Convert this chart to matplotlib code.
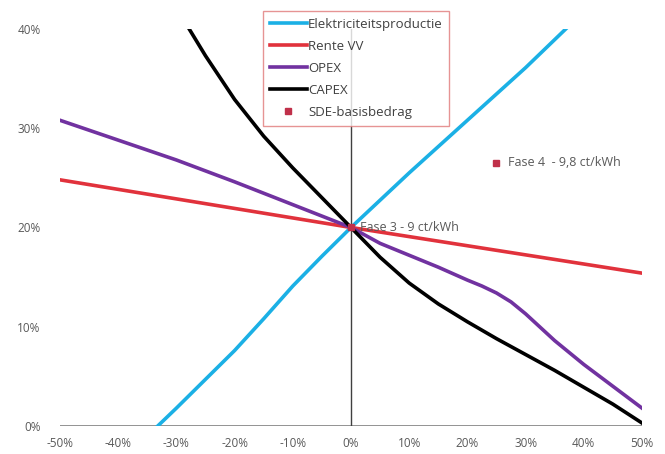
import matplotlib.pyplot as plt
from matplotlib.ticker import FuncFormatter

plt.rcParams['font.family'] = ['Open Sans', 'DejaVu Sans']

# values (x = change in %, y = %)
elek_x = [-33.2, -30, -25, -20, -15, -10, -5, 0, 10, 20, 30, 36.9]
elek_y = [0, 1.8, 4.7, 7.6, 10.8, 14.1, 17.1, 20, 25.5, 30.8, 36.1, 40]

rente_x = [-50, -25, 0, 25, 50]
rente_y = [24.8, 22.4, 20, 17.7, 15.4]

opex_x = [-50, -40, -30, -20, -10, 0, 5, 10, 15, 20, 22.5, 25, 27.5, 30, 35, 40, 45, 50]
opex_y = [30.8, 28.8, 26.8, 24.6, 22.3, 20, 18.4, 17.2, 16.0, 14.7, 14.1, 13.4, 12.5, 11.3, 8.6, 6.2, 4.0, 1.8]

capex_x = [-27.8, -25, -20, -15, -10, -5, 0, 5, 10, 15, 20, 25, 30, 35, 40, 45, 50]
capex_y = [40, 37.3, 32.9, 29.2, 26.0, 23.0, 20, 17.0, 14.4, 12.3, 10.5, 8.8, 7.2, 5.6, 3.9, 2.2, 0.3]

sde_x = [0, 25]
sde_y = [20, 26.5]
sde_labels = ["Fase 3 - 9 ct/kWh", "Fase 4  - 9,8 ct/kWh"]

xticks = list(range(-50, 51, 10))
yticks = [0, 10, 20, 30, 40]

fig = plt.figure(figsize=(6.65, 4.54), dpi=100)
ax = fig.add_axes([0.0902, 0.0617, 0.8752, 0.8745])

grey = '#595959'
ax.axhline(0, color='#808080', lw=1.2, zorder=1)
ax.axvline(0, color='#404040', lw=1.0, zorder=1)

ax.plot(elek_x, elek_y, color='#1BB0E5', lw=2.6, label='Elektriciteitsproductie', zorder=3)
ax.plot(rente_x, rente_y, color='#E1323C', lw=2.6, label='Rente VV', zorder=3)
ax.plot(opex_x, opex_y, color='#7132A0', lw=2.6, label='OPEX', zorder=3)
ax.plot(capex_x, capex_y, color='#000000', lw=2.6, label='CAPEX', zorder=3)
ax.plot(sde_x, sde_y, ls='none', marker='s', ms=5, color='#C0304A',
        label='SDE-basisbedrag', zorder=4)

ax.text(sde_x[0] + 1.5, sde_y[0], sde_labels[0], color=grey, fontsize=9,
        va='center', ha='left', zorder=5)
ax.text(sde_x[1] + 2.0, sde_y[1], sde_labels[1], color=grey, fontsize=9,
        va='center', ha='left', zorder=5)

ax.set_xlim(-50, 50)
ax.set_ylim(0, 40)
ax.set_xticks(xticks)
ax.set_yticks(yticks)
ax.xaxis.set_major_formatter(FuncFormatter(lambda v, p: f"{int(v)}%"))
ax.yaxis.set_major_formatter(FuncFormatter(lambda v, p: f"{int(v)}%"))
ax.tick_params(length=0, labelsize=8.5, labelcolor=grey)
ax.tick_params(axis='x', pad=8)
ax.tick_params(axis='y', pad=14)
for s in ax.spines.values():
    s.set_visible(False)

leg = ax.legend(loc='upper center', bbox_to_anchor=(0.509, 1.044), borderaxespad=0,
                fontsize=9.5, frameon=True, fancybox=False, handlelength=2.8,
                handletextpad=0.1, labelspacing=0.68, borderpad=0.5,
                labelcolor='#404040')
leg.get_frame().set_edgecolor('#E07A7A')
leg.get_frame().set_linewidth(1.0)
leg.set_zorder(10)

fig.savefig('out.png', dpi=100)
